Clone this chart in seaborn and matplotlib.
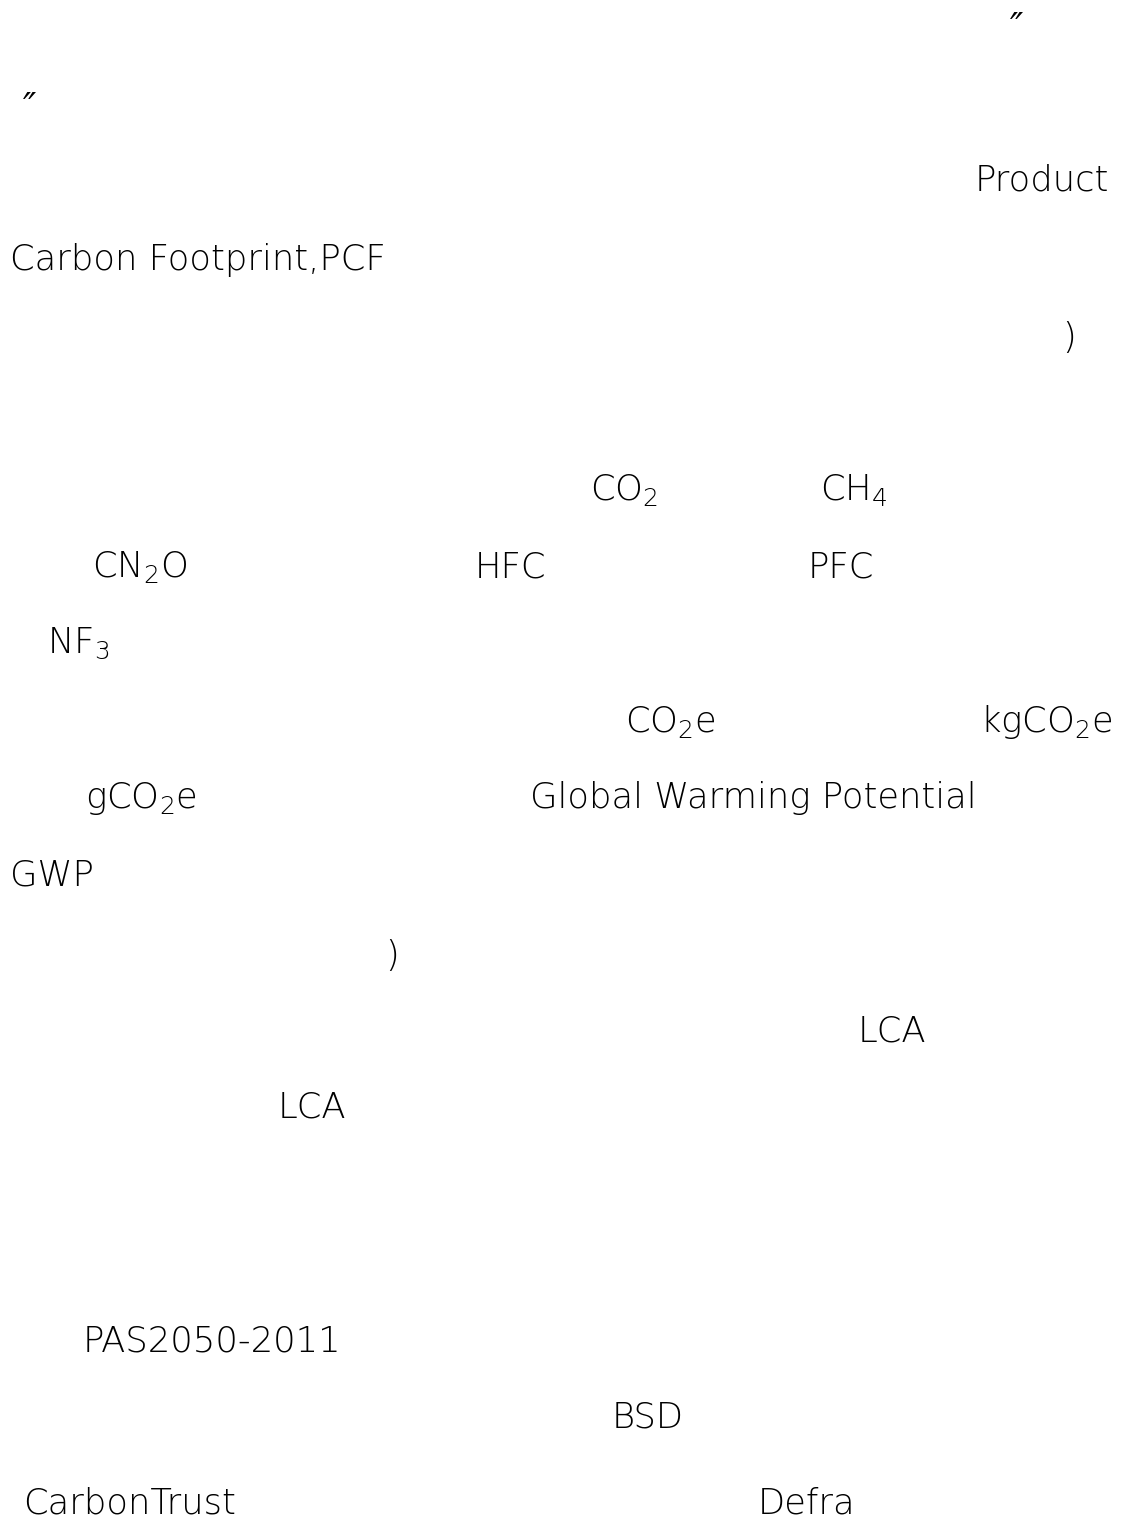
import matplotlib
matplotlib.use('Agg')
import matplotlib.pyplot as plt
import seaborn as sns

# page fragments (only the latin text of the page survives)
fragments = ['\u2033', '\u2033', 'Product', 'Carbon Footprint,PCF', ')',
             'CO$_2$', 'CH$_4$', 'CN$_2$O', 'HFC', 'PFC', 'NF$_3$',
             'CO$_2$e', 'kgCO$_2$e', 'gCO$_2$e', 'Global Warming Potential',
             'GWP', ')', 'LCA', 'LCA', 'PAS2050-2011', 'BSD',
             'CarbonTrust', 'Defra']

# left edge / baseline in page pixels
frag_x = [1010, 23, 975, 10, 1062, 590, 820, 92, 475, 808, 47,
          625, 980, 85, 530, 10, 385, 858, 278, 83, 612, 23, 758]
frag_y = [38, 118, 190, 270, 348, 500, 500, 577, 577, 577, 653,
          732, 732, 808, 808, 885, 966, 1041, 1117, 1351, 1428, 1513, 1513]

W, H = 1123, 1523

sns.set_theme(style='white')
plt.rcParams['font.family'] = ['DejaVu Sans']
plt.rcParams['mathtext.default'] = 'regular'

fig = plt.figure(figsize=(W / 100, H / 100), dpi=100)
ax = fig.add_axes([0, 0, 1, 1])
ax.set_xlim(0, W)
ax.set_ylim(H, 0)
ax.axis('off')

for txt, x, y in zip(fragments, frag_x, frag_y):
    ax.text(x, y, txt, fontsize=25.5, color='black', ha='left', va='baseline',
            fontweight='light', style='italic' if txt == '\u2033' else 'normal')

plt.savefig('out.png', dpi=100, facecolor='white')
